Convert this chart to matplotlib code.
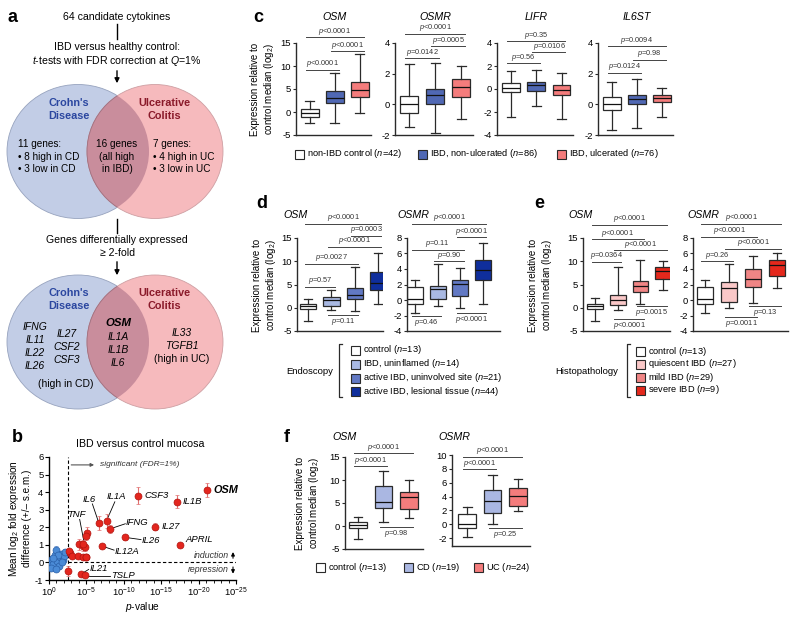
import numpy as np
import matplotlib
matplotlib.use('Agg')
import matplotlib.pyplot as plt
from matplotlib.patches import Ellipse, Rectangle

plt.rcParams['font.family'] = ['Liberation Sans', 'DejaVu Sans']
plt.rcParams['mathtext.fontset'] = 'custom'
plt.rcParams['mathtext.rm'] = 'Liberation Sans'
plt.rcParams['mathtext.it'] = 'Liberation Sans:italic'
plt.rcParams['mathtext.bf'] = 'Liberation Sans:bold'
plt.rcParams['axes.unicode_minus'] = False

# ---------------- data ----------------
# panel b: -log10(p), mean log2 fold difference, s.e.m.
b_red_x = [21.1, 17.05, 11.9, 14.2, 17.5, 10.1, 8.1, 7.7, 6.65, 7.1,
           5.1, 5.0, 4.0, 4.55, 4.8, 4.6,
           2.8, 2.65, 3.1, 3.9, 4.55, 4.9, 5.0,
           4.24, 4.78, 2.55]
b_red_y = [4.13, 3.46, 3.8, 2.03, 0.97, 1.43, 1.9, 2.38, 2.26, 0.93,
           1.69, 1.5, 1.03, 0.93, 0.86, 1.05,
           0.55, 0.65, 0.35, 0.34, 0.3, 0.3, 0.32,
           -0.67, -0.72, -0.48]
b_red_err = [0.38, 0.35, 0.5, 0.2, 0.05, 0.15, 0.25, 0.4, 0.4, 0.1,
             0.3, 0.25, 0.3, 0.3, 0.2, 0.25,
             0.15, 0.1, 0.1, 0.05, 0.05, 0.05, 0.05,
             0.05, 0.05, 0.3]
b_blue_x = [0.1, 0.4, 0.6, 0.75, 1.0, 1.1, 1.3, 1.5, 1.65, 1.85, 2.0, 2.15,
            0.3, 0.9, 1.2, 0.55, 1.75]
b_blue_y = [0.02, 0.2, -0.1, 0.42, 0.72, 0.1, -0.2, 0.3, 0.5, 0.15, 0.35, 0.6,
            -0.3, -0.35, 0.45, 0.25, 0.0]
b_blue_err = [0.1, 0.15, 0.1, 0.2, 0.2, 0.1, 0.15, 0.15, 0.15, 0.1, 0.1, 0.15,
              0.1, 0.1, 0.15, 0.1, 0.1]
# gene label: text x, text y, alignment, leader line end (text side), point x, point y
b_labels = [('IL1B', 17.9, 3.46, 'left', None, None, None, None),
            ('CSF3', 12.8, 3.8, 'left', None, None, None, None),
            ('IL27', 15.1, 2.03, 'left', None, None, None, None),
            ('APRIL', 18.2, 1.31, 'left', None, None, None, None),
            ('IL26', 12.4, 1.27, 'left', 12.3, 1.3, 10.1, 1.43),
            ('IFNG', 10.3, 2.3, 'left', 10.2, 2.2, 8.1, 1.9),
            ('IL1A', 9.0, 3.75, 'center', 8.8, 3.45, 7.7, 2.38),
            ('IL6', 5.36, 3.6, 'center', 5.8, 3.33, 6.65, 2.26),
            ('TNF', 3.66, 2.7, 'center', 4.1, 2.45, 4.8, 0.9),
            ('IL12A', 8.8, 0.65, 'left', 8.7, 0.7, 7.1, 0.93),
            ('IL21', 5.4, -0.35, 'left', 5.3, -0.4, 4.24, -0.67),
            ('TSLP', 8.3, -0.72, 'left', 8.2, -0.75, 4.78, -0.75)]

# panel c-f: box plot five-number summaries (low, q1, median, q3, high)
c_genes = ['OSM', 'OSMR', 'LIFR', 'IL6ST']
c_osm = [(-2.3, -1.0, -0.15, 0.6, 2.4), (-2.3, 1.9, 3.0, 4.5, 8.4), (-0.15, 3.2, 4.7, 6.5, 12.6)]
c_osmr = [(-1.45, -0.55, 0.0, 0.57, 2.6), (-1.85, 0.0, 0.6, 1.0, 2.7), (-0.95, 0.45, 1.15, 1.65, 2.5)]
c_lifr = [(-2.45, -0.3, 0.07, 0.48, 1.6), (-1.52, -0.16, 0.33, 0.6, 1.67), (-2.64, -0.48, -0.07, 0.36, 1.38)]
c_il6st = [(-1.68, -0.37, 0.0, 0.5, 1.44), (-1.55, 0.02, 0.37, 0.63, 1.66), (-0.85, 0.17, 0.39, 0.63, 1.09)]
c_osm_p = [(1, 3, 16.2, '<0.0001', 0), (2, 3, 13.2, '<0.0001', 0), (1, 2, 9.2, '<0.0001', 0)]
c_osmr_p = [(1, 3, 4.6, '<0.0001', 0), (2, 3, 3.8, '=0.0005', 0), (1, 2, 3.0, '=0.0142', 0)]
c_lifr_p = [(1, 3, 4.15, '=0.35', 0), (2, 3, 3.18, '=0.0106', 0), (1, 2, 2.25, '=0.56', 0)]
c_il6st_p = [(1, 3, 3.78, '=0.0094', 0), (2, 3, 2.9, '=0.98', 0), (1, 2, 2.07, '=0.0124', 0)]
c_groups = ['non-IBD control ($n$=42)', 'IBD, non-ulcerated ($n$=86)', 'IBD, ulcerated ($n$=76)']
c_colors = ['white', '#5068B4', '#F47C7C']

d_osm = [(-2.9, -0.36, 0.3, 0.87, 1.95), (-0.43, 0.43, 1.6, 2.3, 3.9),
         (-0.72, 1.8, 2.8, 4.33, 8.8), (0.87, 3.9, 5.4, 7.65, 11.7)]
d_osmr = [(-1.73, -0.52, 0.09, 1.65, 2.6), (-0.78, 0.17, 1.39, 1.82, 4.63),
          (-1.08, 0.52, 2.08, 2.6, 4.07), (-0.52, 2.6, 3.9, 5.1, 7.36)]
d_osm_p = [(1, 4, 18.05, '<0.0001', 0), (3, 4, 15.5, '=0.0003', 0), (2, 4, 13.1, '<0.0001', 0),
           (1, 3, 9.5, '=0.0027', 0), (1, 2, 4.5, '=0.57', 0), (2, 3, -1.66, '=0.11', 1)]
d_osmr_p = [(1, 4, 9.87, '<0.0001', 0), (3, 4, 8.1, '<0.0001', 0), (1, 3, 6.5, '=0.11', 0),
            (2, 3, 4.98, '=0.90', 0), (1, 2, -2.08, '=0.46', 1), (3, 4, -1.73, '<0.0001', 1)]
d_groups = ['control ($n$=13)', 'IBD, uninflamed ($n$=14)',
            'active IBD, uninvolved site ($n$=21)', 'active IBD, lesional tissue ($n$=44)']
d_colors = ['white', '#A9B9E3', '#6279C4', '#0F2E9C']

e_osm = [(-2.75, -0.3, 0.3, 0.87, 2.1), (-0.58, 0.65, 1.6, 2.74, 8.8),
         (0.87, 3.4, 4.62, 5.78, 10.25), (3.9, 6.2, 7.94, 8.8, 10.0)]
e_osmr = [(-1.73, -0.52, 0.09, 1.65, 2.6), (-1.08, -0.22, 1.6, 2.38, 4.63),
          (-0.35, 1.73, 2.68, 4.0, 5.7), (1.6, 3.1, 4.55, 5.2, 6.06)]
e_osm_p = [(1, 4, 17.8, '<0.0001', 0), (1, 3, 14.7, '<0.0001', 0), (2, 4, 12.4, '<0.0001', 0),
           (1, 2, 9.9, '=0.0364', 0), (3, 4, 0.3, '=0.0015', 1), (2, 3, -2.4, '<0.0001', 1)]
e_osmr_p = [(1, 4, 9.87, '<0.0001', 0), (1, 3, 8.14, '<0.0001', 0), (2, 4, 6.58, '<0.0001', 0),
            (1, 2, 4.98, '=0.26', 0), (3, 4, -0.78, '=0.13', 1), (2, 3, -2.16, '=0.0011', 1)]
e_groups = ['control ($n$=13)', 'quiescent IBD ($n$=27)', 'mild IBD ($n$=29)', 'severe IBD ($n$=9)']
e_colors = ['white', '#FAC8C8', '#F08585', '#E4281C']

f_osm = [(-2.9, -0.36, 0.2, 0.94, 2.0), (0.8, 4.0, 5.25, 8.6, 11.9), (1.65, 3.8, 6.2, 7.4, 10.1)]
f_osmr = [(-1.8, -0.6, 0.0, 1.5, 2.45), (0.0, 1.65, 3.4, 5.0, 7.15), (1.9, 2.7, 4.1, 5.2, 6.5)]
f_osm_p = [(1, 3, 15.8, '<0.0001', 0), (1, 2, 13.0, '<0.0001', 0), (2, 3, -0.3, '=0.98', 1)]
f_osmr_p = [(1, 3, 9.74, '<0.0001', 0), (1, 2, 7.95, '<0.0001', 0), (2, 3, -0.6, '=0.25', 1)]
f_groups = ['control ($n$=13)', 'CD ($n$=19)', 'UC ($n$=24)']
f_colors = ['white', '#AAB7E2', '#F47C7C']

# ---------------- figure ----------------
W, H = 800, 617
fig = plt.figure(figsize=(W / 100, H / 100), dpi=100)
ax0 = fig.add_axes([0, 0, 1, 1])
ax0.set_xlim(0, W)
ax0.set_ylim(H, 0)
ax0.axis('off')

DARK = '#2a2a2a'


def px_axes(x0, x1, y0, y1):
    return fig.add_axes([x0 / W, 1 - y1 / H, (x1 - x0) / W, (y1 - y0) / H])


def txt(x, y, s, size=6.5, **kw):
    ax0.text(x, y, s, fontsize=size, ha=kw.pop('ha', 'center'), va=kw.pop('va', 'center'), **kw)


# panel letters
for lab, x, y in [('a', 13, 17), ('b', 17, 437), ('c', 258, 17), ('d', 262, 204),
                  ('e', 539, 203), ('f', 287, 437)]:
    txt(x, y, lab, size=13, weight='bold')

# ---------------- panel a ----------------
txt(117, 17, '64 candidate cytokines', 7.6)
ax0.plot([117, 117], [24, 39], color='k', lw=1)
txt(117, 47, 'IBD versus healthy control:', 7.6)
txt(117, 61, '$t$-tests with FDR correction at $Q$=1%', 7.6)
ax0.annotate('', xy=(117, 86), xytext=(117, 68),
             arrowprops=dict(arrowstyle='-|>', color='k', lw=1, mutation_scale=7))
txt(117, 240, 'Genes differentially expressed', 7.6)
txt(117, 253, '\u2265 2-fold', 7.6)
ax0.plot([117, 117], [219, 233], color='k', lw=1)
ax0.annotate('', xy=(117, 278), xytext=(117, 259),
             arrowprops=dict(arrowstyle='-|>', color='k', lw=1, mutation_scale=7))


def venn(cy):
    left = Ellipse((78, cy), 142, 134, facecolor='#C2CDE6', edgecolor='#97A3BE', lw=0.6)
    right = Ellipse((155, cy), 136, 134, facecolor='#F6BABD', edgecolor='#CE9FA3', lw=0.6)
    ax0.add_patch(left)
    ax0.add_patch(right)
    lens = Ellipse((155, cy), 136, 134, facecolor='#C98D9C', edgecolor='#9E7080', lw=0.6)
    ax0.add_patch(lens)
    lens.set_clip_path(left)


venn(151.5)
txt(69, 103, "Crohn's", 7.8, weight='bold', color='#2B47A0')
txt(69, 116, 'Disease', 7.8, weight='bold', color='#2B47A0')
txt(164, 103, 'Ulcerative', 7.8, weight='bold', color='#8A1A2A')
txt(164, 116, 'Colitis', 7.8, weight='bold', color='#8A1A2A')
for i, s in enumerate(['11 genes:', '\u2022 8 high in CD', '\u2022 3 low in CD']):
    txt(18, 144 + 12.5 * i, s, 7.2, ha='left')
for i, s in enumerate(['16 genes', '(all high', 'in IBD)']):
    txt(117, 144 + 12.5 * i, s, 7.2)
for i, s in enumerate(['7 genes:', '\u2022 4 high in UC', '\u2022 3 low in UC']):
    txt(153, 144 + 12.5 * i, s, 7.2, ha='left')

venn(342)
txt(69, 293, "Crohn's", 7.8, weight='bold', color='#2B47A0')
txt(69, 306, 'Disease', 7.8, weight='bold', color='#2B47A0')
txt(164, 293, 'Ulcerative', 7.8, weight='bold', color='#8A1A2A')
txt(164, 306, 'Colitis', 7.8, weight='bold', color='#8A1A2A')
for i, s in enumerate(['IFNG', 'IL11', 'IL22', 'IL26']):
    txt(35, 327 + 13 * i, s, 7.5, style='italic')
for i, s in enumerate(['IL27', 'CSF2', 'CSF3']):
    txt(67, 334 + 13 * i, s, 7.5, style='italic')
txt(66, 384, '(high in CD)', 7.5)
txt(118, 323, 'OSM', 8.2, style='italic', weight='bold')
for i, s in enumerate(['IL1A', 'IL1B', 'IL6']):
    txt(118, 337 + 13 * i, s, 7.5, style='italic')
txt(182, 333, 'IL33', 7.5, style='italic')
txt(182, 346, 'TGFB1', 7.5, style='italic')
txt(182, 359, '(high in UC)', 7.5)

# ---------------- panel b ----------------
axb = px_axes(49, 236, 457, 580)
axb.set_xlim(0, 25)
axb.set_ylim(-1, 6)
axb.axvline(2.5, color='k', ls='--', lw=0.8, dashes=(3, 2))
axb.plot([2.5, 25], [0, 0], color='k', ls='--', lw=0.8, dashes=(3, 2))
axb.errorbar(b_blue_x, b_blue_y, yerr=b_blue_err, fmt='o', ms=5, mfc='#4B8BD6', mec='#2A5FA8',
             mew=0.5, ecolor='#5F8FD0', elinewidth=0.8, capsize=1.5, zorder=3)
axb.errorbar(b_red_x, b_red_y, yerr=b_red_err, fmt='o', ms=5, mfc='#E3261E', mec='#B0140F',
             mew=0.5, ecolor='#E07070', elinewidth=0.8, capsize=1.5, zorder=4)
for name, tx, ty, ha, lx, ly, px, py in b_labels:
    if px is not None:
        axb.plot([px, lx], [py, ly], color='k', lw=0.6, zorder=2)
    axb.text(tx, ty, name, fontsize=6.8, style='italic', ha=ha, va='center', zorder=5)
axb.text(22.0, 4.13, 'OSM', fontsize=7.8, style='italic', weight='bold', ha='left', va='center')
axb.annotate('', xy=(6.4, 5.55), xytext=(2.6, 5.55),
             arrowprops=dict(arrowstyle='-|>', color='#555', lw=0.8, mutation_scale=5))
axb.text(6.8, 5.55, 'significant (FDR=1%)', fontsize=6, style='italic', color='#333',
         ha='left', va='center')
axb.text(24.0, 0.4, 'induction', fontsize=6.3, style='italic', color='#333', ha='right', va='center')
axb.text(24.0, -0.4, 'repression', fontsize=6.3, style='italic', color='#333', ha='right', va='center')
axb.annotate('', xy=(24.6, 0.75), xytext=(24.6, 0.08),
             arrowprops=dict(arrowstyle='-|>', color='k', lw=0.8, mutation_scale=5))
axb.annotate('', xy=(24.6, -0.8), xytext=(24.6, -0.1),
             arrowprops=dict(arrowstyle='-|>', color='k', lw=0.8, mutation_scale=5))
for s in ['top', 'right']:
    axb.spines[s].set_visible(False)
for s in ['left', 'bottom']:
    axb.spines[s].set_linewidth(1.0)
axb.set_xticks(np.arange(0, 26, 5))
axb.set_xticklabels(['$10^{0}$'] + ['$10^{-%d}$' % v for v in range(5, 26, 5)])
axb.set_xticks(np.arange(0, 26, 1), minor=True)
axb.set_yticks(np.arange(-1, 7, 1))
axb.tick_params(axis='both', labelsize=6.8, length=3, width=0.8, pad=1)
axb.tick_params(axis='x', which='minor', length=1.8, width=0.6)
axb.set_xlabel('$p$-value', fontsize=7.3, labelpad=1)
axb.set_ylabel('Mean log$_2$ fold expression\ndifference (+/\u2013 s.e.m.)', fontsize=7.2,
               labelpad=2, linespacing=1.1)
txt(140, 444, 'IBD versus control mucosa', 7.7)


# ---------------- box plot helpers ----------------
def box_panel(x0, x1, y0, y1, data, colors, ylim, yticks, xlim, sig):
    ax = px_axes(x0, x1, y0, y1)
    stats = [dict(whislo=a, q1=b, med=c, q3=d, whishi=e) for a, b, c, d, e in data]
    pos = np.arange(1, len(data) + 1)
    bp = ax.bxp(stats, positions=pos, widths=0.7, patch_artist=True, showfliers=False,
                capwidths=0.35,
                boxprops=dict(lw=0.9, edgecolor=DARK),
                whiskerprops=dict(lw=0.9, color=DARK),
                capprops=dict(lw=0.9, color=DARK),
                medianprops=dict(lw=0.9, color='#111111'))
    for patch, c in zip(bp['boxes'], colors):
        patch.set_facecolor(c)
    ax.set_xlim(*xlim)
    ax.set_ylim(*ylim)
    ax.set_yticks(yticks)
    ax.set_xticks([])
    for s in ['top', 'right']:
        ax.spines[s].set_visible(False)
    for s in ['left', 'bottom']:
        ax.spines[s].set_linewidth(1.0)
        ax.spines[s].set_color(DARK)
    ax.tick_params(axis='y', labelsize=6.8, length=2.5, width=0.8, pad=1, color=DARK)
    for i, j, y, lab, below in sig:
        ax.plot([i - 0.15, j + 0.15], [y, y], color='#444', lw=0.7, clip_on=False)
        ax.annotate('$p$' + lab, ((i + j) / 2, y), xytext=(0, -0.6 if below else 0.4),
                    textcoords='offset points', ha='center', va='top' if below else 'bottom',
                    fontsize=5.3, color='#333', annotation_clip=False)
    return ax


def ylab(x, y):
    txt(x, y, 'Expression relative to\ncontrol median (log$_2$)', 7.0, rotation=90, linespacing=1.15)


def squares(items, colors, xs, ys, size=9):
    for lab, c, x, y in zip(items, colors, xs, ys):
        ax0.add_patch(Rectangle((x, y - size / 2), size, size, facecolor=c, edgecolor=DARK, lw=0.8))
        txt(x + size + 3, y, lab, 6.7, ha='left')


def bracket(x, y0, y1):
    ax0.plot([x + 3, x, x, x + 3], [y0, y0, y1, y1], color=DARK, lw=0.9)


# ---------------- panel c ----------------
c_axes = [(296, 371, c_osm, (-5, 15), [-5, 0, 5, 10, 15], c_osm_p),
          (395, 473, c_osmr, (-2, 4), [-2, 0, 2, 4], c_osmr_p),
          (497, 573, c_lifr, (-4, 4), [-4, -2, 0, 2, 4], c_lifr_p),
          (598, 673, c_il6st, (-2, 4), [-2, 0, 2, 4], c_il6st_p)]
for (x0, x1, data, yl, yt, sig), gene in zip(c_axes, c_genes):
    box_panel(x0, x1, 43, 135, data, c_colors, yl, yt, (0.45, 3.45), sig)
    txt((x0 + x1) / 2 + 1, 17, gene, 7.7, style='italic')
ylab(263, 89)
squares(c_groups, c_colors, [295, 418, 557], [154, 154, 154])

# ---------------- panel d ----------------
box_panel(297, 383, 238, 331, d_osm, d_colors, (-5, 15), [-5, 0, 5, 10, 15], (0.52, 4.22), d_osm_p)
box_panel(407, 500, 238, 331, d_osmr, d_colors, (-4, 8), [-4, -2, 0, 2, 4, 6, 8], (0.65, 4.75), d_osmr_p)
txt(283, 215, 'OSM', 7.7, style='italic', ha='left')
txt(397, 215, 'OSMR', 7.7, style='italic', ha='left')
ylab(265, 285)
bracket(339, 344, 397)
txt(333, 371, 'Endoscopy', 6.8, ha='right')
squares(d_groups, d_colors, [351] * 4, [350, 364, 378, 391])

# ---------------- panel e ----------------
box_panel(583, 670, 238, 331, e_osm, e_colors, (-5, 15), [-5, 0, 5, 10, 15], (0.47, 4.3), e_osm_p)
box_panel(693, 788, 238, 331, e_osmr, e_colors, (-4, 8), [-4, -2, 0, 2, 4, 6, 8], (0.5, 4.46), e_osmr_p)
txt(568, 215, 'OSM', 7.7, style='italic', ha='left')
txt(687, 215, 'OSMR', 7.7, style='italic', ha='left')
ylab(541, 285)
bracket(627, 344, 397)
txt(618, 371, 'Histopathology', 6.8, ha='right')
squares(e_groups, e_colors, [636] * 4, [351, 364, 377, 390])

# ---------------- panel f ----------------
box_panel(345, 423, 457, 549, f_osm, f_colors, (-5, 15), [-5, 0, 5, 10, 15], (0.49, 3.55), f_osm_p)
box_panel(452, 530, 455, 546, f_osmr, f_colors, (-3.15, 10), [-2, 0, 2, 4, 6, 8, 10], (0.41, 3.47), f_osmr_p)
txt(332, 437, 'OSM', 7.7, style='italic', ha='left')
txt(438, 437, 'OSMR', 7.7, style='italic', ha='left')
ylab(308, 503)
squares(f_groups, f_colors, [316, 404, 474], [567, 567, 567])

fig.savefig('out.png', dpi=100)
